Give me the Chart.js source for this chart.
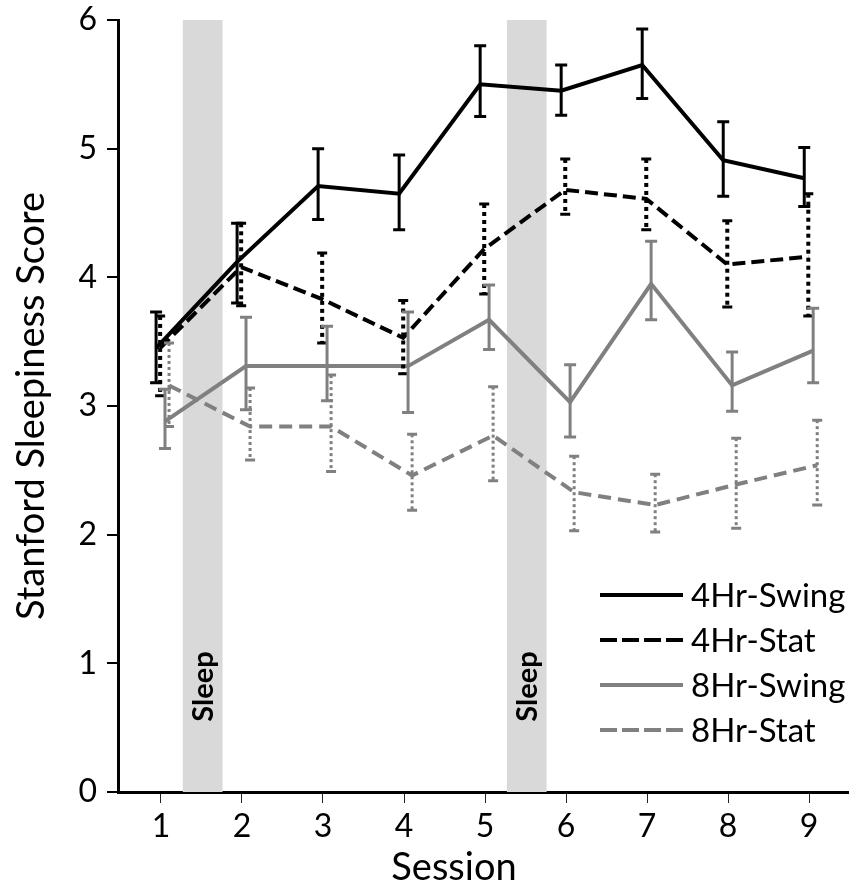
<!DOCTYPE html>
<html><head><meta charset="utf-8">
<script src="https://cdn.jsdelivr.net/npm/chart.js@4"></script>
<style>html,body{margin:0;padding:0;background:#fff}#wrap{width:854px;height:896px}</style>
</head><body><div id="wrap"><canvas id="c" width="854" height="896"></canvas></div>
<script>
const sessions = [1,2,3,4,5,6,7,8,9];
const sessionLabels = ['1','2','3','4','5','6','7','8','9'];
const yTicks = [0,1,2,3,4,5,6];
const seriesNames = ['4Hr-Swing','4Hr-Stat','8Hr-Swing','8Hr-Stat'];

const swing4 = [3.45, 4.12, 4.71, 4.65, 5.50, 5.45, 5.65, 4.91, 4.77];
const swing4Upper = [3.73, 4.42, 5.00, 4.95, 5.80, 5.65, 5.93, 5.21, 5.01];
const swing4Lower = [3.18, 3.80, 4.45, 4.37, 5.25, 5.26, 5.39, 4.63, 4.55];

const stat4 = [3.45, 4.08, 3.83, 3.53, 4.22, 4.68, 4.61, 4.10, 4.16];
const stat4Upper = [3.70, 4.42, 4.19, 3.82, 4.57, 4.92, 4.92, 4.44, 4.65];
const stat4Lower = [3.08, 3.78, 3.49, 3.25, 3.87, 4.49, 4.37, 3.77, 3.70];

const swing8 = [2.88, 3.31, 3.31, 3.31, 3.67, 3.03, 3.95, 3.16, 3.43];
const swing8Upper = [3.13, 3.69, 3.62, 3.73, 3.94, 3.32, 4.28, 3.42, 3.76];
const swing8Lower = [2.67, 2.97, 3.04, 2.95, 3.44, 2.76, 3.67, 2.96, 3.18];

const stat8 = [3.16, 2.84, 2.84, 2.46, 2.77, 2.33, 2.23, 2.39, 2.54];
const stat8Upper = [3.49, 3.14, 3.24, 2.78, 3.15, 2.61, 2.47, 2.75, 2.89];
const stat8Lower = [2.84, 2.58, 2.49, 2.19, 2.42, 2.03, 2.02, 2.05, 2.23];

// sleep periods between sessions (x-axis units)
const sleepStart = [1.27, 5.27];
const sleepEnd = [1.76, 5.76];
const sleepLabel = 'Sleep';
const xTitle = 'Session';
const yTitle = 'Stanford Sleepiness Score';

const FONT = 'Lato, "Open Sans", sans-serif';
const BLACK = '#000000', GRAY = '#808080';

const styles = [
  {color: BLACK, dash: [], width: 4, offset: -0.06, errDash: [], errWidth: 3, cap: 6},
  {color: BLACK, dash: [13,6], width: 4, offset: -0.01, errDash: [4,4], errWidth: 4, cap: 5},
  {color: GRAY, dash: [], width: 4, offset: 0.05, errDash: [], errWidth: 3, cap: 6},
  {color: GRAY, dash: [13,7], width: 4, offset: 0.1, errDash: [3,3], errWidth: 3, cap: 5},
];
const means = [swing4, stat4, swing8, stat8];
const uppers = [swing4Upper, stat4Upper, swing8Upper, stat8Upper];
const lowers = [swing4Lower, stat4Lower, swing8Lower, stat8Lower];

const datasets = seriesNames.map((name, k) => ({
  label: name,
  data: sessions.map((s, i) => ({x: s + styles[k].offset, y: means[k][i]})),
  borderColor: styles[k].color,
  borderWidth: styles[k].width,
  borderDash: styles[k].dash,
  pointRadius: 0,
  fill: false,
  tension: 0,
  order: 4 - k
}));

const bandsPlugin = {
  id: 'bands',
  beforeDatasetsDraw(chart) {
    const {ctx, chartArea, scales: {x, y}} = chart;
    ctx.save();
    for (let i = 0; i < sleepStart.length; i++) {
      const x0 = x.getPixelForValue(sleepStart[i]);
      const x1 = x.getPixelForValue(sleepEnd[i]);
      ctx.fillStyle = '#d9d9d9';
      ctx.fillRect(x0, chartArea.top, x1 - x0, chartArea.bottom - chartArea.top);
      ctx.save();
      ctx.translate((x0 + x1) / 2 + 1, y.getPixelForValue(0.82));
      ctx.rotate(-Math.PI / 2);
      ctx.fillStyle = '#000';
      ctx.font = 'bold 29px ' + FONT;
      ctx.textAlign = 'center';
      ctx.textBaseline = 'middle';
      ctx.fillText(sleepLabel, 0, 0);
      ctx.restore();
    }
    ctx.restore();
  }
};

const errPlugin = {
  id: 'errbars',
  afterDatasetsDraw(chart) {
    const {ctx, scales: {x, y}} = chart;
    ctx.save();
    for (let k = 0; k < seriesNames.length; k++) {
      const st = styles[k];
      ctx.strokeStyle = st.color;
      for (let i = 0; i < sessions.length; i++) {
        const px = x.getPixelForValue(sessions[i] + st.offset);
        const pt = y.getPixelForValue(uppers[k][i]);
        const pb = y.getPixelForValue(lowers[k][i]);
        ctx.lineWidth = st.errWidth;
        ctx.setLineDash(st.errDash);
        ctx.beginPath(); ctx.moveTo(px, pt); ctx.lineTo(px, pb); ctx.stroke();
        ctx.setLineDash([]);
        ctx.lineWidth = 3;
        ctx.beginPath();
        ctx.moveTo(px - st.cap, pt); ctx.lineTo(px + st.cap, pt);
        ctx.moveTo(px - st.cap, pb); ctx.lineTo(px + st.cap, pb);
        ctx.stroke();
      }
    }
    ctx.restore();
  }
};

const legendPlugin = {
  id: 'customLegend',
  afterDraw(chart) {
    const {ctx} = chart;
    ctx.save();
    const lx0 = 600, lx1 = 683, tx = 691, ty0 = 595, dy = 45;
    chart.data.datasets.forEach((ds, k) => {
      const yy = ty0 + k * dy;
      ctx.strokeStyle = ds.borderColor;
      ctx.lineWidth = 4;
      ctx.setLineDash(k % 2 === 1 ? [17,5] : []);
      ctx.beginPath(); ctx.moveTo(lx0, yy); ctx.lineTo(lx1, yy); ctx.stroke();
      ctx.setLineDash([]);
      ctx.fillStyle = '#000';
      ctx.font = '33px ' + FONT;
      ctx.textAlign = 'left';
      ctx.textBaseline = 'middle';
      ctx.fillText(ds.label, tx, yy + 1);
    });
    // x axis title
    ctx.font = '38px ' + FONT;
    ctx.textAlign = 'center';
    ctx.textBaseline = 'middle';
    ctx.fillText(xTitle, 454, 868);
    ctx.restore();
  }
};

new Chart(document.getElementById('c'), {
  type: 'line',
  data: {datasets},
  options: {
    responsive: false,
    animation: false,
    layout: {padding: {top: 20, right: 6, left: 0, bottom: 0}},
    plugins: {legend: {display: false}, tooltip: {enabled: false}},
    scales: {
      x: {
        type: 'linear', min: 0.47, max: 9.48,
        afterBuildTicks(scale) { scale.ticks = sessions.map(v => ({value: v})); },
        afterFit(scale) { scale.height = 104; },
        ticks: {
          callback: (v) => sessionLabels[sessions.indexOf(v)],
          font: {family: FONT, size: 32}, color: '#000', padding: 4, maxRotation: 0, autoSkip: false
        },
        grid: {drawOnChartArea: false, tickLength: 11, color: '#222', lineWidth: 1},
        border: {color: '#000', width: 3},
        title: {display: false}
      },
      y: {
        min: 0, max: 6,
        afterBuildTicks(scale) { scale.ticks = yTicks.map(v => ({value: v})); },
        afterFit(scale) { scale.width = 118; },
        ticks: {font: {family: FONT, size: 32, lineHeight: 0.5}, color: '#000', padding: 10},
        grid: {drawOnChartArea: false, tickLength: 11, color: '#000', lineWidth: 2},
        border: {color: '#000', width: 3},
        title: {display: true, text: yTitle, font: {family: FONT, size: 38}, color: '#000', padding: {top: 9, bottom: 0}}
      }
    }
  },
  plugins: [bandsPlugin, errPlugin, legendPlugin]
});
</script></body></html>
